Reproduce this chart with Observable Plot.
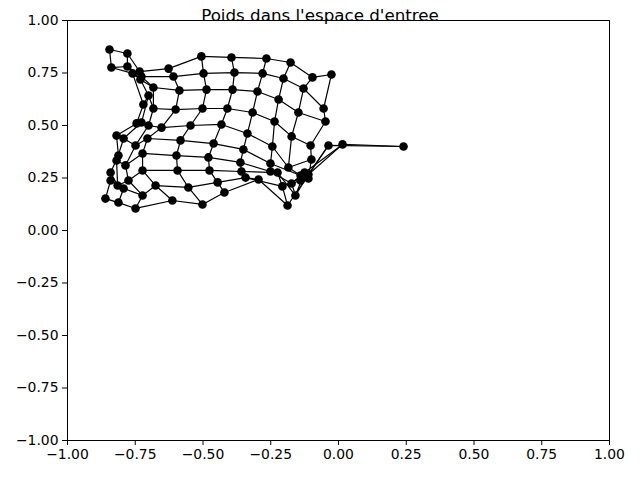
<!DOCTYPE html>
<html><head><meta charset="utf-8">
<script src="https://cdn.jsdelivr.net/npm/d3@7"></script>
<script src="https://cdn.jsdelivr.net/npm/@observablehq/plot@0.6"></script>
<style>
body{margin:0;background:#fff;}
#wrap{position:relative;width:640px;height:480px;}
#title{position:absolute;top:5px;left:0;width:640px;text-align:center;font-family:"DejaVu Sans";font-size:16.7px;line-height:20px;color:#000;z-index:2;pointer-events:none;}
</style></head><body>
<div id="wrap"><div id="title"></div></div>
<script>
const title = "Poids dans l'espace d'entree";
const tickValues = [-1, -0.75, -0.5, -0.25, 0, 0.25, 0.5, 0.75, 1];

// SOM weights, grid rows (r0..r9), each with 10 neurons (c0..c9)
const weightsX = [
  [-0.845, -0.779, -0.734, -0.627, -0.506, -0.395, -0.266, -0.177, -0.096, -0.026],
  [-0.838, -0.779, -0.727, -0.609, -0.498, -0.384, -0.280, -0.203, -0.129, -0.055],
  [-0.760, -0.731, -0.683, -0.587, -0.487, -0.391, -0.299, -0.221, -0.148, -0.048],
  [-0.720, -0.701, -0.683, -0.601, -0.502, -0.410, -0.317, -0.236, -0.173, -0.103],
  [-0.745, -0.727, -0.701, -0.653, -0.546, -0.432, -0.336, -0.244, -0.185, -0.100],
  [-0.819, -0.793, -0.749, -0.705, -0.583, -0.461, -0.351, -0.251, -0.140, -0.111],
  [-0.812, -0.819, -0.786, -0.723, -0.598, -0.480, -0.362, -0.251, -0.173, -0.140],
  [-0.841, -0.815, -0.775, -0.723, -0.594, -0.476, -0.358, -0.225, -0.159, -0.125],
  [-0.841, -0.793, -0.723, -0.675, -0.554, -0.446, -0.343, -0.207, -0.111, 0.015],
  [-0.860, -0.812, -0.749, -0.613, -0.502, -0.421, -0.295, -0.188, -0.037, 0.240]
];
const weightsY = [
  [0.862, 0.843, 0.757, 0.771, 0.829, 0.824, 0.819, 0.800, 0.729, 0.743],
  [0.776, 0.781, 0.733, 0.733, 0.748, 0.752, 0.748, 0.724, 0.676, 0.581],
  [0.748, 0.719, 0.681, 0.667, 0.671, 0.671, 0.662, 0.624, 0.562, 0.519],
  [0.600, 0.643, 0.581, 0.576, 0.581, 0.581, 0.562, 0.519, 0.448, 0.405],
  [0.510, 0.514, 0.500, 0.490, 0.500, 0.505, 0.462, 0.400, 0.300, 0.338],
  [0.452, 0.438, 0.405, 0.438, 0.429, 0.414, 0.386, 0.319, 0.262, 0.248],
  [0.357, 0.333, 0.310, 0.367, 0.357, 0.348, 0.324, 0.281, 0.224, 0.238],
  [0.276, 0.214, 0.238, 0.286, 0.286, 0.286, 0.281, 0.276, 0.167, 0.276],
  [0.238, 0.200, 0.167, 0.214, 0.205, 0.229, 0.252, 0.210, 0.267, 0.410],
  [0.152, 0.133, 0.105, 0.143, 0.124, 0.181, 0.243, 0.119, 0.405, 0.400]
];

const nodes = [];
weightsX.forEach((row, r) => row.forEach((x, c) => nodes.push({r, c, x, y: weightsY[r][c]})));
const byCol = d3.sort(nodes, d => d.c, d => d.r);

document.getElementById("title").textContent = title;

const chart = Plot.plot({
  width: 640,
  height: 480,
  marginLeft: 67,
  marginRight: 31,
  marginTop: 20,
  marginBottom: 40,
  style: {fontFamily: "DejaVu Sans", fontSize: "13.9px", color: "black", background: "white"},
  x: {domain: [-1, 1], ticks: tickValues, tickFormat: d3.format(".2f"), label: null},
  y: {domain: [-1, 1], ticks: tickValues, tickFormat: d3.format(".2f"), label: null},
  marks: [
    Plot.frame({stroke: "black", strokeWidth: 1}),
    Plot.axisX({ticks: tickValues, tickFormat: d3.format(".2f"), tickSize: 5, tickPadding: 4, label: null, strokeWidth: 1}),
    Plot.axisY({ticks: tickValues, tickFormat: d3.format(".2f"), tickSize: 5, tickPadding: 4, label: null, strokeWidth: 1}),
    Plot.line(nodes, {x: "x", y: "y", z: "r", stroke: "black", strokeWidth: 1.2}),
    Plot.line(byCol, {x: "x", y: "y", z: "c", stroke: "black", strokeWidth: 1.2}),
    Plot.dot(nodes, {x: "x", y: "y", r: 4.3, fill: "black", stroke: null})
  ]
});
document.getElementById("wrap").appendChild(chart);
</script>
</body></html>
